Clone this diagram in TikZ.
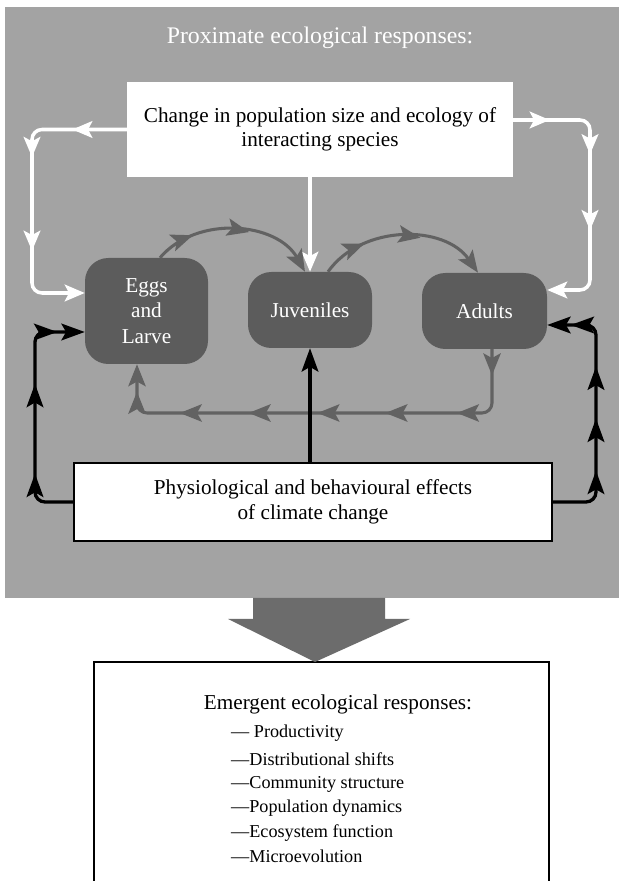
\documentclass[tikz,border=0pt]{standalone}
\usepackage{fontspec}
\setmainfont{Liberation Serif}
\usetikzlibrary{arrows.meta,decorations.markings}
\definecolor{CBG}{RGB}{163,163,163}
\definecolor{CSTG}{RGB}{92,92,92}
\definecolor{CCYC}{RGB}{98,98,98}
\definecolor{CBIG}{RGB}{108,108,108}

\begin{document}
\begin{tikzpicture}[
  stage/.style={fill=CSTG,rounded corners=0.7cm,text=white,align=center,inner sep=0pt,font=\fontsize{18.1}{21.8}\selectfont},
  wbox/.style={fill=white,align=center,inner sep=0pt,font=\fontsize{18.1}{20.8}\selectfont},
  wlink/.style={white,line width=3pt,rounded corners=0.3cm,>={Stealth[length=0.6cm 0,width=0.5cm 0,inset=0.13cm 0]},->},
  blink/.style={black,line width=2.8pt,rounded corners=0.3cm,>={Stealth[length=0.7cm 0,width=0.5cm 0,inset=0.14cm 0]},->},
  clink/.style={CCYC,line width=2.6pt,rounded corners=0.3cm,>={Stealth[length=0.66cm 0,width=0.52cm 0,inset=0.14cm 0]},->},
  listitem/.style={anchor=west,inner sep=0pt,font=\fontsize{15.5}{18}\selectfont}]
  \fill[white] (0,0) rectangle (18.5700cm,26.4300cm);
  \useasboundingbox (0,0) rectangle (18.5700cm,26.4300cm);
  \clip (0,0) rectangle (18.5700cm,26.4300cm);
  % proximate panel
  \fill[CBG] (0.1500cm,8.4900cm) rectangle (18.5700cm,26.2200cm);
  \node[text=white,font=\fontsize{20.3}{24}\selectfont] (prox) at (9.6000cm,25.2900cm) {Proximate ecological responses:};
  \node[wbox,minimum width=11.5800cm,minimum height=2.8500cm] (chg) at (9.6000cm,22.5450cm) {Change in population size and ecology of\\interacting species};
  \node[stage,minimum width=3.6900cm,minimum height=3.1800cm] (eggs) at (4.3950cm,17.1000cm) {Eggs\\and\\Larve};
  \node[stage,minimum width=3.7200cm,minimum height=2.2800cm] (juv) at (9.3000cm,17.1300cm) {Juveniles};
  \node[stage,minimum width=3.7500cm,minimum height=2.2800cm] (adults) at (14.5350cm,17.1000cm) {Adults};
  \node[wbox,draw=black,line width=1.2pt,minimum width=14.3400cm,minimum height=2.3400cm] (phys) at (9.3900cm,11.3700cm) {Physiological and behavioural effects\\of climate change};
  \coordinate (wL) at (0.9600cm,17.6400cm);
  \coordinate (wR) at (17.7000cm,17.7300cm);
  \coordinate (bL) at (1.0500cm,16.4700cm);
  \coordinate (bR) at (17.8800cm,16.6800cm);
  \coordinate (cB) at (4.1100cm,14.0400cm);
  % white: interacting species
  \draw[wlink,decoration={markings,mark=at position 0.18 with {\arrow{>}},mark=at position 0.39 with {\arrow{>}},mark=at position 0.70 with {\arrow{>}}},postaction={decorate}] (chg.west) -| (wL) -- (eggs.west |- wL);
  \draw[wlink,decoration={markings,mark=at position 0.13 with {\arrow{>}},mark=at position 0.38 with {\arrow{>}},mark=at position 0.65 with {\arrow{>}}},postaction={decorate}] ([yshift=0.285cm]chg.east) -| (wR) -- (adults.east |- wR);
  \draw[wlink] (chg.south -| juv.north) -- (juv.north);
  % life cycle
  \draw[clink,decoration={markings,mark=at position 0.24 with {\arrow{>}},mark=at position 0.58 with {\arrow{>}}},postaction={decorate}] ([xshift=0.405cm]eggs.north) to[bend left=55] ([xshift=-0.15cm]juv.north);
  \draw[clink,decoration={markings,mark=at position 0.27 with {\arrow{>}},mark=at position 0.60 with {\arrow{>}}},postaction={decorate}] ([xshift=0.54cm]juv.north) to[bend left=55] ([xshift=-0.195cm]adults.north);
  \draw[clink,decoration={markings,mark=at position 0.057 with {\arrow{>}},mark=at position 0.206 with {\arrow{>}},mark=at position 0.362 with {\arrow{>}},mark=at position 0.51 with {\arrow{>}},mark=at position 0.66 with {\arrow{>}},mark=at position 0.81 with {\arrow{>}},mark=at position 0.94 with {\arrow{>}}},postaction={decorate}] ([xshift=0.225cm]adults.south) |- (cB) -- ([xshift=-0.285cm]eggs.south);
  % black: climate effects
  \draw[blink] (phys.north -| juv.south) -- (juv.south);
  \draw[blink,decoration={markings,mark=at position 0.25 with {\arrow{>}},mark=at position 0.61 with {\arrow{>}},mark=at position 0.89 with {\arrow{>}}},postaction={decorate}] (phys.west) -| (bL) -- (eggs.west |- bL);
  \draw[blink,decoration={markings,mark=at position 0.27 with {\arrow{>}},mark=at position 0.47 with {\arrow{>}},mark=at position 0.67 with {\arrow{>}},mark=at position 0.91 with {\arrow{>}}},postaction={decorate}] (phys.east) -| (bR) -- (adults.east |- bR);
  % emergent responses
  \node[draw=black,line width=1pt,minimum width=13.6500cm,minimum height=7.6000cm,inner sep=0pt] (emrg) at (9.6450cm,2.7700cm) {};
  \fill[CBIG] (7.5900cm,8.4900cm) -- (7.5900cm,7.8600cm) -- (6.8400cm,7.8600cm) -- (9.4500cm,6.5700cm) -- (12.3000cm,7.8600cm) -- (11.5500cm,7.8600cm) -- (11.5500cm,8.4900cm) -- cycle;
  \node[font=\fontsize{18.1}{21}\selectfont] (emttl) at (10.1400cm,5.3100cm) {Emergent ecological responses:};
  \node[listitem] (it1) at (6.9300cm,4.4310cm) {--- Productivity};
  \node[listitem] (it2) at (6.9300cm,3.6600cm) {---Distributional shifts};
  \node[listitem] (it3) at (6.9300cm,2.9100cm) {---Community structure};
  \node[listitem] (it4) at (6.9300cm,2.1810cm) {---Population dynamics};
  \node[listitem] (it5) at (6.9300cm,1.4310cm) {---Ecosystem function};
  \node[listitem] (it6) at (6.9300cm,0.7290cm) {---Microevolution};
\end{tikzpicture}
\end{document}
